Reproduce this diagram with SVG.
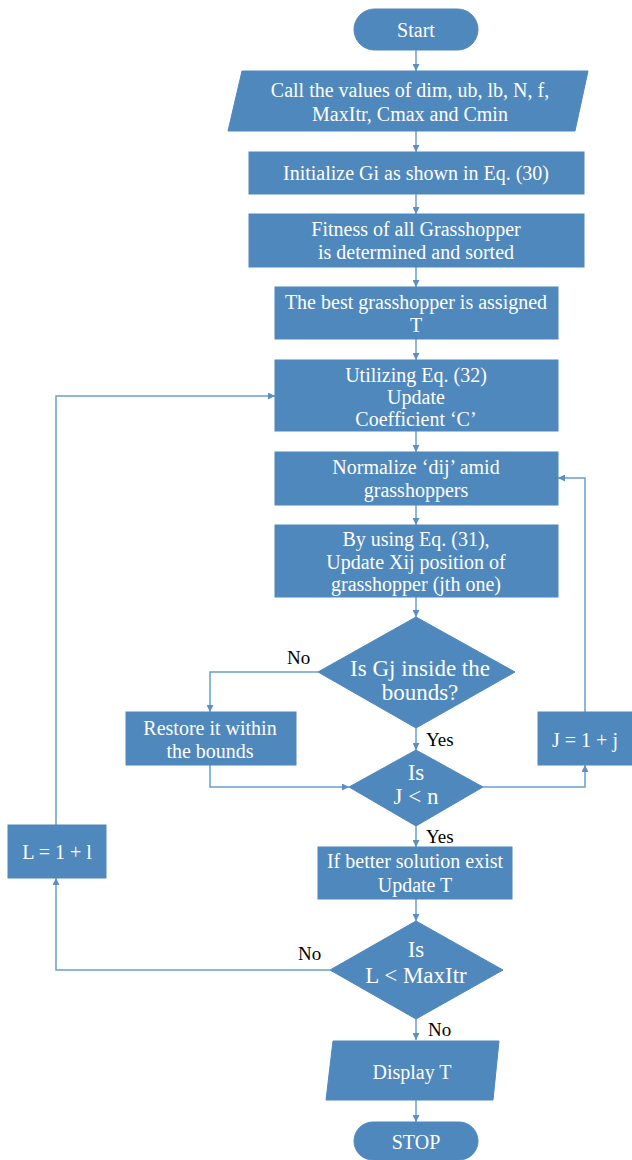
<svg xmlns="http://www.w3.org/2000/svg" width="632" height="1160" viewBox="0 0 632 1160" font-family="Liberation Serif, Times New Roman, Times, serif">
<defs>
<marker id="ah" viewBox="0 0 10 10" refX="10" refY="5" markerWidth="7" markerHeight="7" markerUnits="userSpaceOnUse" orient="auto">
<path d="M0,0 L10,5 L0,10 z" fill="#5b8fc5"/>
</marker>
<style>
.n{fill:#4f88bd;stroke:#4f88bd;stroke-width:1}
.t{font-family:'Liberation Serif','Times New Roman',Times,serif;font-size:20px;fill:#fff;text-anchor:middle}
.b{font-size:23px}
.l{font-family:'Liberation Serif','Times New Roman',Times,serif;font-size:19px;fill:#000}
.c{fill:none;stroke:#6a9fd0;stroke-width:1.5;marker-end:url(#ah)}
</style>
</defs>
<rect width="632" height="1160" fill="#fff"/>
<g id="connectors">
<path class="c" d="M416,50 V71"/>
<path class="c" d="M416,131 V152"/>
<path class="c" d="M416,194 V214"/>
<path class="c" d="M416,267 V287"/>
<path class="c" d="M416,339 V360"/>
<path class="c" d="M416,431 V452"/>
<path class="c" d="M416,505 V525"/>
<path class="c" d="M416,597 V617"/>
<path class="c" d="M318,672 H210 V712"/>
<path class="c" d="M416,728 V750"/>
<path class="c" d="M210,765 V787 H349"/>
<path class="c" d="M483,787 H585 V765"/>
<path class="c" d="M585,712 V478 H558"/>
<path class="c" d="M416,826 V847"/>
<path class="c" d="M416,899 V921"/>
<path class="c" d="M330,970 H56 V878"/>
<path class="c" d="M56,825 V396 H275"/>
<path class="c" d="M416,1019 V1040"/>
<path class="c" d="M416,1100 V1122"/>
<text class="l" x="287" y="664">No</text>
<text class="l" x="426" y="746">Yes</text>
<text class="l" x="426" y="843">Yes</text>
<text class="l" x="298" y="960">No</text>
<text class="l" x="428" y="1036">No</text>
</g>
<g id="start"><rect class="n" x="354" y="9" width="124" height="41" rx="20.5"/><text class="t" x="416" y="37">Start</text></g>
<g id="input"><polygon class="n" points="242,71 588,71 575,131 228,131"/><text class="t" x="410" y="97">Call the values of dim, ub, lb, N, f,</text><text class="t" x="410" y="121">MaxItr, Cmax and Cmin</text></g>
<g id="init"><rect class="n" x="249" y="152" width="335" height="42"/><text class="t" x="416" y="180">Initialize Gi as shown in Eq. (30)</text></g>
<g id="fitness"><rect class="n" x="249" y="214" width="335" height="53"/><text class="t" x="416" y="236">Fitness of all Grasshopper</text><text class="t" x="416" y="259">is determined and sorted</text></g>
<g id="best"><rect class="n" x="275" y="287" width="283" height="52"/><text class="t" x="416" y="309">The best grasshopper is assigned</text><text class="t" x="416" y="332">T</text></g>
<g id="utilize"><rect class="n" x="275" y="360" width="283" height="71"/><text class="t" x="416" y="382">Utilizing Eq. (32)</text><text class="t" x="416" y="404">Update</text><text class="t" x="416" y="426">Coefficient ‘C’</text></g>
<g id="normalize"><rect class="n" x="275" y="452" width="283" height="53"/><text class="t" x="416" y="474">Normalize ‘dij’ amid</text><text class="t" x="416" y="497">grasshoppers</text></g>
<g id="update"><rect class="n" x="275" y="525" width="283" height="72"/><text class="t" x="416" y="546">By using Eq. (31),</text><text class="t" x="416" y="569">Update Xij position of</text><text class="t" x="416" y="591">grasshopper (jth one)</text></g>
<g id="inside"><polygon class="n" points="416,617 515,672 416,728 318,672"/><text class="t b" x="420" y="676">Is Gj inside the</text><text class="t b" x="420" y="700">bounds?</text></g>
<g id="restore"><rect class="n" x="126" y="712" width="170" height="53"/><text class="t" x="210" y="735">Restore it within</text><text class="t" x="210" y="758">the bounds</text></g>
<g id="jinc"><rect class="n" x="538" y="712" width="94" height="53"/><text class="t" x="585" y="747">J = 1 + j</text></g>
<g id="jlt"><polygon class="n" points="416,750 483,787 416,826 349,787"/><text class="t b" x="416" y="780">Is</text><text class="t b" x="416" y="804">J &lt; n</text></g>
<g id="better"><rect class="n" x="318" y="847" width="194" height="52"/><text class="t" x="415" y="868">If better solution exist</text><text class="t" x="415" y="892">Update T</text></g>
<g id="linc"><rect class="n" x="8" y="825" width="98" height="53"/><text class="t" x="57" y="859">L = 1 + l</text></g>
<g id="llt"><polygon class="n" points="416,921 503,970 416,1019 330,970"/><text class="t b" x="416" y="957">Is</text><text class="t b" x="416" y="983">L &lt; MaxItr</text></g>
<g id="display"><polygon class="n" points="333,1041 499,1041 493,1100 326,1100"/><text class="t" x="412" y="1079">Display T</text></g>
<g id="stop"><rect class="n" x="354" y="1122" width="124" height="38" rx="19"/><text class="t" x="416" y="1149">STOP</text></g>
</svg>
